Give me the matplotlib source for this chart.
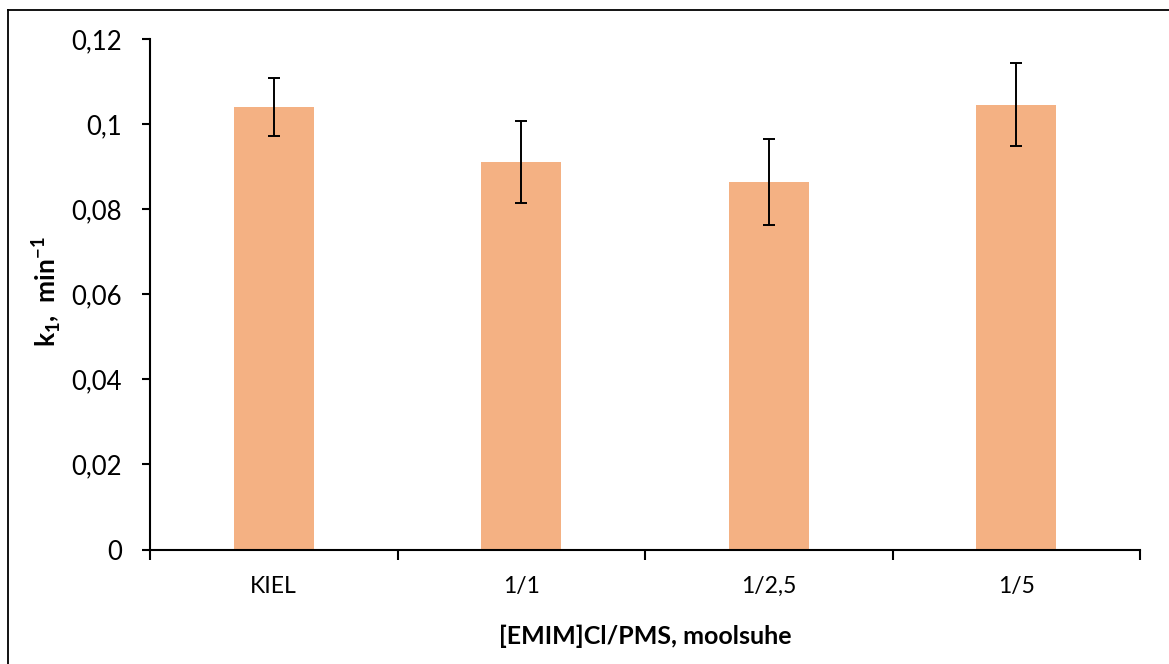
"""
k1 rate constants vs [EMIM]Cl/PMS molar ratio, bar chart with error bars
"""

import matplotlib
matplotlib.use("Agg")
import matplotlib.pyplot as plt
from matplotlib.lines import Line2D
import numpy as np

categories = ["KIEL", "1/1", "1/2,5", "1/5"]
k1_values = [0.1040, 0.0911, 0.0863, 0.1046]
k1_errors = [0.0068, 0.0096, 0.0101, 0.0098]
y_ticks = [0, 0.02, 0.04, 0.06, 0.08, 0.1, 0.12]
y_tick_labels = ["0", "0,02", "0,04", "0,06", "0,08", "0,1", "0,12"]

plt.rcParams['font.family'] = ['Lato', 'DejaVu Sans']
plt.rcParams['mathtext.fontset'] = 'custom'
plt.rcParams['mathtext.rm'] = 'Lato'
plt.rcParams['mathtext.bf'] = 'Lato:bold'

fig = plt.figure(figsize=(11.69, 6.64), dpi=100)
ax = fig.add_axes([150 / 1169, 1 - 549.5 / 664, 990 / 1169, 510.5 / 664])

x = np.arange(len(categories))
ax.bar(x, k1_values, width=0.323, color="#F4B183", zorder=2)
ax.errorbar(x, k1_values, yerr=k1_errors, fmt='none', ecolor='black',
            elinewidth=1.4, capsize=4.3, capthick=1.4, zorder=3)

ax.set_xlim(-0.5, len(categories) - 0.5)
ax.set_ylim(0, 0.12)

for side in ['top', 'right']:
    ax.spines[side].set_visible(False)
for side in ['left', 'bottom']:
    ax.spines[side].set_linewidth(1.5)

ax.set_yticks(y_ticks)
ax.set_yticklabels(y_tick_labels)
ax.tick_params(axis='y', direction='out', length=6, width=1.5, pad=14, labelsize=18.5)

ax.set_xticks(x)
ax.set_xticklabels(categories)
ax.set_xticks(np.arange(-0.5, len(categories)), minor=True)
ax.tick_params(axis='x', which='major', length=0, pad=19, labelsize=16.5)
ax.tick_params(axis='x', which='minor', direction='out', length=7, width=1.5)

ax.set_xlabel("[EMIM]Cl/PMS, moolsuhe", fontsize=18, fontweight='bold', labelpad=20)
ax.set_ylabel(r"k$_\mathbf{1}$,  min$^\mathbf{-1}$", fontsize=19, fontweight='bold')
ax.yaxis.set_label_coords(-0.088, 0.505)

# outer chart frame (cropped at right and bottom)
fig.add_artist(Line2D([8 / 1169, 8 / 1169], [0, 1 - 10 / 664], color='black', linewidth=1.3))
fig.add_artist(Line2D([8 / 1169, 1], [1 - 10 / 664, 1 - 10 / 664], color='black', linewidth=1.3))

fig.savefig("out.png", dpi=100)
